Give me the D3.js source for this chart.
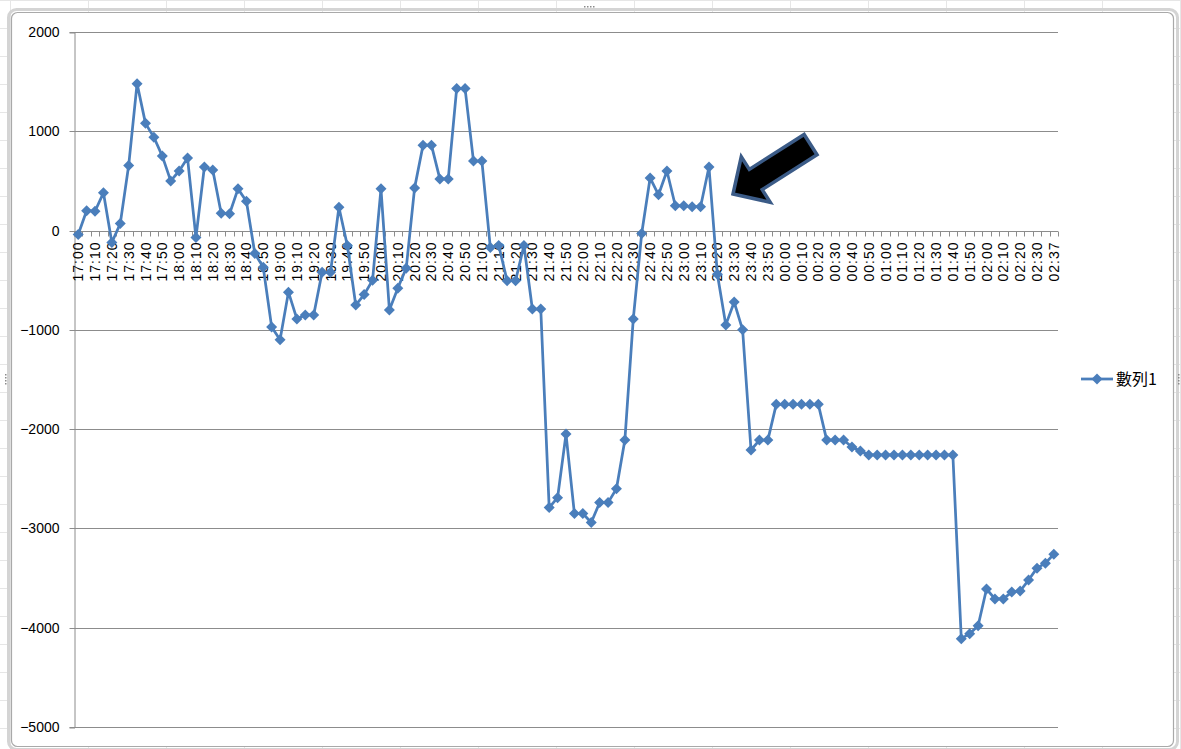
<!DOCTYPE html>
<html>
<head>
<meta charset="utf-8">
<script src="https://cdn.jsdelivr.net/npm/d3@7"></script>
<style>
  body { margin: 0; background: #fff; }
  svg { display: block; }
</style>
</head>
<body>
<svg id="container" width="1181" height="749"></svg>
<script>
const categories = [
  "17:00","17:05","17:10","17:15","17:20","17:25","17:30","17:35","17:40","17:45","17:50","17:55",
  "18:00","18:05","18:10","18:15","18:20","18:25","18:30","18:35","18:40","18:45","18:50","18:55",
  "19:00","19:05","19:10","19:15","19:20","19:25","19:30","19:35","19:40","19:45","19:50","19:55",
  "20:00","20:05","20:10","20:15","20:20","20:25","20:30","20:35","20:40","20:45","20:50","20:55",
  "21:00","21:05","21:10","21:15","21:20","21:25","21:30","21:35","21:40","21:45","21:50","21:55",
  "22:00","22:05","22:10","22:15","22:20","22:25","22:30","22:35","22:40","22:45","22:50","22:55",
  "23:00","23:05","23:10","23:15","23:20","23:25","23:30","23:35","23:40","23:45","23:50","23:55",
  "00:00","00:05","00:10","00:15","00:20","00:25","00:30","00:35","00:40","00:45","00:50","00:55",
  "01:00","01:05","01:10","01:15","01:20","01:25","01:30","01:35","01:40","01:45","01:50","01:55",
  "02:00","02:05","02:10","02:15","02:20","02:25","02:30","02:35","02:37"
];

const values = [
  -40, 200, 195, 380, -120, 70, 655, 1480, 1080, 940, 750, 500,
  600, 730, -70, 640, 610, 175, 170, 420, 295, -230, -370, -970,
  -1100, -620, -890, -850, -850, -420, -420, 235, -150, -750, -645, -500,
  420, -800, -580, -380, 430, 860, 860, 520, 520, 1430, 1430, 700,
  700, -170, -150, -505, -505, -150, -790, -790, -2790, -2690, -2050, -2850,
  -2850, -2940, -2740, -2740, -2600, -2110, -890, -30, 530, 360, 600, 250,
  250, 240, 240, 640, -440, -950, -720, -1000, -2210, -2110, -2110, -1750,
  -1750, -1750, -1750, -1750, -1750, -2110, -2110, -2110, -2180, -2220, -2260, -2260,
  -2260, -2260, -2260, -2260, -2260, -2260, -2260, -2260, -2260, -4110, -4060, -3980,
  -3610, -3710, -3710, -3640, -3630, -3520, -3400, -3350, -3260
];

const yTicks = [2000, 1000, 0, -1000, -2000, -3000, -4000, -5000];
const seriesName = "數列1";

const svg = d3.select("#container");
const width = +svg.attr("width");
const height = +svg.attr("height");

const plotLeft = 74;
const plotRight = 1058;
const plotTop = 32;
const plotBottom = 727;

const lineColor = "#4a7ebb";
const gridColor = "#8c8c8c";

// spreadsheet cells behind the chart object
const cells = svg.append("g").attr("stroke", "#e6e6e6").attr("stroke-width", 1);
d3.range(10, width, 78).forEach((x) => {
  cells.append("line").attr("x1", x + 0.5).attr("x2", x + 0.5).attr("y1", 0).attr("y2", height);
});
d3.range(0, height, 28).forEach((y) => {
  cells.append("line").attr("x1", 0).attr("x2", width).attr("y1", y + 0.5).attr("y2", y + 0.5);
});

svg
  .append("rect")
  .attr("x", 8.5)
  .attr("y", 9.5)
  .attr("width", 1169)
  .attr("height", 740)
  .attr("rx", 8)
  .attr("fill", "none")
  .attr("stroke", "#d4d4d4")
  .attr("stroke-width", 3);

svg
  .append("rect")
  .attr("x", 11.5)
  .attr("y", 12.5)
  .attr("width", 1162)
  .attr("height", 734)
  .attr("rx", 6)
  .attr("fill", "#fff")
  .attr("stroke", "#a9a9a9")
  .attr("stroke-width", 1.2);

// resize handles
const handles = [
  [584, 6, 1, 0],
  [5, 374, 0, 1],
  [1178, 374, 0, 1],
];
handles.forEach(([hx, hy, dx, dy]) => {
  for (let k = 0; k < 4; k++) {
    svg
      .append("rect")
      .attr("x", hx + k * 3 * dx)
      .attr("y", hy + k * 3 * dy)
      .attr("width", 1.5)
      .attr("height", 1.5)
      .attr("fill", "#8a8a8a");
  }
});

const x = d3.scaleBand().domain(categories).range([plotLeft, plotRight]).padding(0);
const y = d3.scaleLinear().domain([-5000, 2000]).range([plotBottom, plotTop]);
const cx = (i) => x(categories[i]) + x.bandwidth() / 2;

// horizontal gridlines
svg
  .append("g")
  .selectAll("line")
  .data(yTicks)
  .enter()
  .append("line")
  .attr("x1", plotLeft)
  .attr("x2", plotRight)
  .attr("y1", (d) => Math.round(y(d)) + 0.5)
  .attr("y2", (d) => Math.round(y(d)) + 0.5)
  .attr("stroke", gridColor)
  .attr("stroke-width", 1);

// y axis
const yAxis = svg
  .append("g")
  .attr("transform", `translate(${plotLeft + 0.5},0.5)`)
  .call(d3.axisLeft(y).tickValues(yTicks).tickSize(5).tickPadding(10).tickFormat(d3.format("d")));
yAxis.select(".domain").attr("stroke", gridColor);
yAxis.selectAll(".tick line").attr("stroke", gridColor);
yAxis
  .selectAll(".tick text")
  .attr("font-family", "Liberation Sans, Arial, sans-serif")
  .attr("font-size", 14)
  .attr("fill", "#000");
yAxis.selectAll(".tick").attr("transform", (d) => `translate(0,${Math.round(y(d))})`);

// category axis sits on the zero line
const zeroY = Math.round(y(0)) + 0.5;
const boundaries = categories.map((c) => x(c)).concat([plotRight]);
svg
  .append("g")
  .selectAll("line")
  .data(boundaries)
  .enter()
  .append("line")
  .attr("x1", (d) => Math.round(d) + 0.5)
  .attr("x2", (d) => Math.round(d) + 0.5)
  .attr("y1", zeroY)
  .attr("y2", zeroY + 5)
  .attr("stroke", gridColor);

svg
  .append("g")
  .selectAll("text")
  .data(categories.filter((c, i) => i % 2 === 0))
  .enter()
  .append("text")
  .attr("transform", (c) => `translate(${x(c) + x.bandwidth() / 2},${zeroY + 10}) rotate(-90)`)
  .attr("text-anchor", "end")
  .attr("dy", "0.36em")
  .attr("font-family", "Liberation Sans, Arial, sans-serif")
  .attr("font-size", 14)
  .attr("letter-spacing", 1)
  .attr("fill", "#000")
  .text((c) => c);

// series
const line = d3
  .line()
  .x((d, i) => cx(i))
  .y((d) => y(d));

svg
  .append("path")
  .datum(values)
  .attr("d", line)
  .attr("fill", "none")
  .attr("stroke", lineColor)
  .attr("stroke-width", 2.75)
  .attr("stroke-linejoin", "round");

const diamond = (r) => `M0,${-r}L${r},0L0,${r}L${-r},0Z`;

svg
  .append("g")
  .selectAll("path")
  .data(values)
  .enter()
  .append("path")
  .attr("d", diamond(5.5))
  .attr("transform", (d, i) => `translate(${cx(i)},${y(d)})`)
  .attr("fill", lineColor);

// legend
const legend = svg.append("g").attr("transform", "translate(1081,379)");
legend.append("line").attr("x1", 0).attr("x2", 32).attr("stroke", lineColor).attr("stroke-width", 2.75);
legend.append("path").attr("d", diamond(5.5)).attr("transform", "translate(16,0)").attr("fill", lineColor);
legend
  .append("text")
  .attr("x", 35)
  .attr("dy", "0.36em")
  .attr("font-family", "Noto Sans CJK TC, sans-serif")
  .attr("font-size", 16)
  .attr("fill", "#000")
  .text(seriesName);

// block arrow pointing down-left at the 23:15 peak
const arrowShape = [
  [0, 0],
  [-27, -27],
  [-27, -12],
  [-92, -12],
  [-92, 12],
  [-27, 12],
  [-27, 27],
];
svg
  .append("path")
  .attr("d", d3.line()(arrowShape) + "Z")
  .attr("transform", "translate(733,194) rotate(147.5)")
  .attr("fill", "#000")
  .attr("stroke", "#3b5b87")
  .attr("stroke-width", 3.5)
  .attr("stroke-linejoin", "miter");
</script>
</body>
</html>
